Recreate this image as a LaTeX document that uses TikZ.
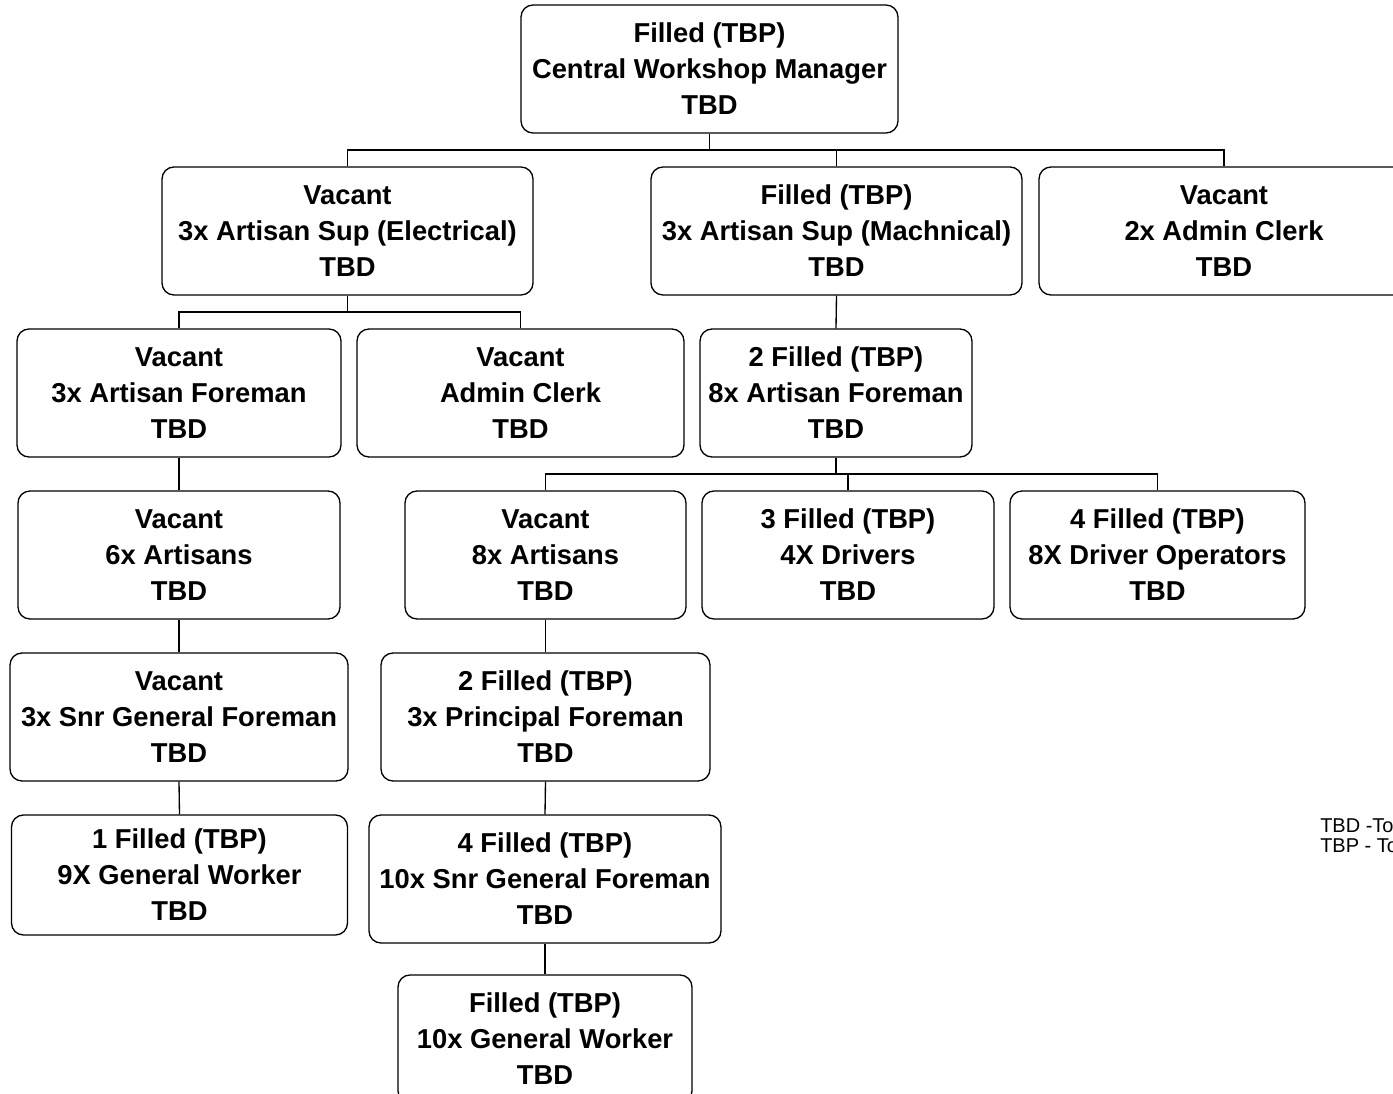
\documentclass[tikz,border=0pt]{standalone}
\usepackage{fontspec}
\setmainfont{Liberation Sans}
\begin{document}
\begin{tikzpicture}[x=0.75pt,y=-0.75pt,
  box/.style={draw=black,line width=1pt,rounded corners=9pt,inner sep=0pt,align=center,
    font=\fontsize{20.5}{27}\selectfont\bfseries,fill=white},
  conn/.style={draw=black,line width=1pt},
  legend/.style={inner sep=0pt,anchor=base west,font=\fontsize{15}{16}\selectfont}]
\useasboundingbox (0,0) rectangle (1393,1094);
\clip (0,0) rectangle (1393,1094);
\node[box,minimum width=377*0.75pt,minimum height=128*0.75pt] (mgr) at (709.5,69) {Filled (TBP)\\Central Workshop Manager\\TBD};
\node[box,minimum width=371*0.75pt,minimum height=128*0.75pt] (elec) at (347.5,231) {Vacant\\3x Artisan Sup (Electrical)\\TBD};
\node[box,minimum width=371*0.75pt,minimum height=128*0.75pt] (mech) at (836.5,231) {Filled (TBP)\\3x Artisan Sup (Machnical)\\TBD};
\node[box,minimum width=370*0.75pt,minimum height=128*0.75pt] (adm2) at (1224,231) {Vacant\\2x Admin Clerk\\TBD};
\node[box,minimum width=324*0.75pt,minimum height=128*0.75pt] (af3) at (179,393) {Vacant\\3x Artisan Foreman\\TBD};
\node[box,minimum width=327*0.75pt,minimum height=128*0.75pt] (adm) at (520.5,393) {Vacant\\Admin Clerk\\TBD};
\node[box,minimum width=272*0.75pt,minimum height=128*0.75pt] (af8) at (836,393) {2 Filled (TBP)\\8x Artisan Foreman\\TBD};
\node[box,minimum width=322*0.75pt,minimum height=128*0.75pt] (art6) at (179,555) {Vacant\\6x Artisans\\TBD};
\node[box,minimum width=281*0.75pt,minimum height=128*0.75pt] (art8) at (545.5,555) {Vacant\\8x Artisans\\TBD};
\node[box,minimum width=292*0.75pt,minimum height=128*0.75pt] (drv) at (848,555) {3 Filled (TBP)\\4X Drivers\\TBD};
\node[box,minimum width=295*0.75pt,minimum height=128*0.75pt] (dop) at (1157.5,555) {4 Filled (TBP)\\8X Driver Operators\\TBD};
\node[box,minimum width=338*0.75pt,minimum height=128*0.75pt] (sgf3) at (179,717) {Vacant\\3x Snr General Foreman\\TBD};
\node[box,minimum width=329*0.75pt,minimum height=128*0.75pt] (pf) at (545.5,717) {2 Filled (TBP)\\3x Principal Foreman\\TBD};
\node[box,minimum width=336*0.75pt,minimum height=120*0.75pt] (gw9) at (179.5,875) {1 Filled (TBP)\\9X General Worker\\TBD};
\node[box,minimum width=352*0.75pt,minimum height=128*0.75pt] (sgf10) at (545,879) {4 Filled (TBP)\\10x Snr General Foreman\\TBD};
\node[box,minimum width=294*0.75pt,minimum height=128*0.75pt] (gw10) at (545,1039) {Filled (TBP)\\10x General Worker\\TBD};
\coordinate (j1) at (710,150);
\coordinate (j2) at (347,312);
\coordinate (j3) at (836,474);
\draw[conn] (mgr.south) -- (mgr.south |- j1);
\draw[conn] (elec.north) |- (j1) -| (adm2.north);
\draw[conn] (mech.north) -- (mech.north |- j1);
\draw[conn] (elec.south) -- (elec.south |- j2);
\draw[conn] (af3.north) |- (j2) -| (adm.north);
\draw[conn] (mech.south) -- (af8.north);
\draw[conn] (af8.south) -- (af8.south |- j3);
\draw[conn] (art8.north) |- (j3) -| (dop.north);
\draw[conn] (drv.north) -- (drv.north |- j3);
\draw[conn] (af3.south) -- (art6.north);
\draw[conn] (art6.south) -- (sgf3.north);
\draw[conn] (sgf3.south) -- (gw9.north);
\draw[conn] (art8.south) -- (pf.north);
\draw[conn] (pf.south) -- (sgf10.north);
\draw[conn] (sgf10.south) -- (gw10.north);
\node[legend] (l1) at (1320,832) {TBD -To};
\node[legend] (l2) at (1320,852) {TBP - To};
\end{tikzpicture}
\end{document}
